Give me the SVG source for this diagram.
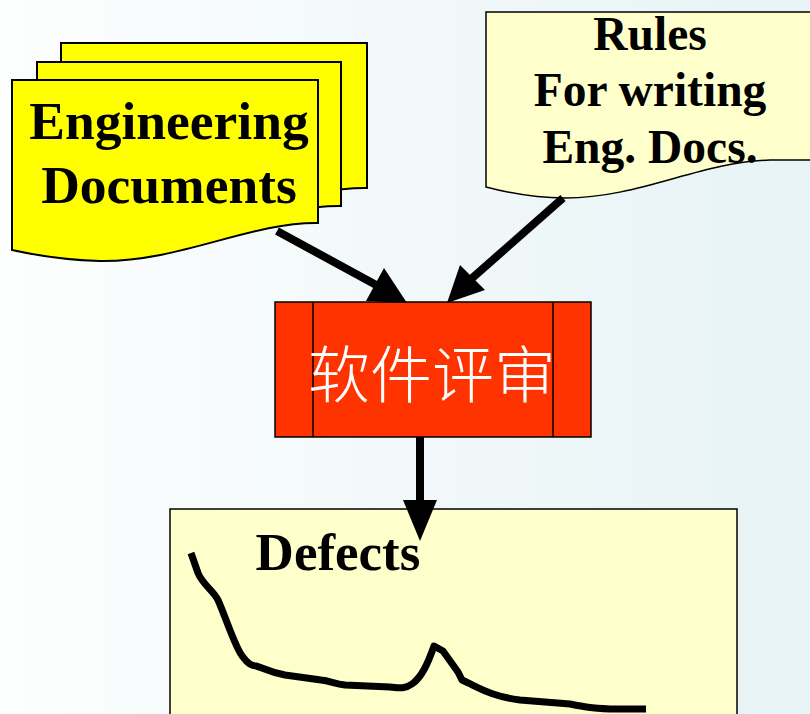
<svg xmlns="http://www.w3.org/2000/svg" width="810" height="714" viewBox="0 0 810 714">
<defs>
<linearGradient id="bg" x1="0" y1="0" x2="1" y2="0">
<stop offset="0" stop-color="#fdfefe"/>
<stop offset="1" stop-color="#e7f3f5"/>
</linearGradient>
<style>
.doc{fill:#ffff00;stroke:#000;stroke-width:2}
.pale{fill:#ffffcc;stroke:#000;stroke-width:1.5}
.en{font-family:"Liberation Serif","Times New Roman",serif;font-weight:bold;fill:#000;text-anchor:middle}
.conn{stroke:#000;stroke-width:8;fill:none}
.head{fill:#000;stroke:none}
</style>
</defs>
<rect x="0" y="0" width="810" height="714" fill="url(#bg)"/>

<g id="engineering-documents">
<path class="doc" d="M61,43 H367 V188 C299,187 229,227 149,226 C109,225 79,219 61,215 Z"/>
<path class="doc" d="M37,62 H341 V206 C273,205 204,245 124,244 C84,243 55,237 37,233 Z"/>
<path class="doc" d="M12,80 H318 V223 C250,222 180,262 100,261 C60,260 30,254 12,250 Z"/>
<text class="en" x="169" y="139" font-size="53.5">Engineering</text>
<text class="en" x="169" y="203" font-size="53.5">Documents</text>
</g>

<g id="rules">
<path class="pale" d="M486,12 H830 V160 H770 C700,162 640,198 565,198 C530,198 505,192 486,187 Z"/>
<text class="en" x="650" y="50" font-size="47.5">Rules</text>
<text class="en" x="650" y="106" font-size="47.5">For writing</text>
<text class="en" x="650" y="163" font-size="47.5">Eng. Docs.</text>
</g>

<g id="review">
<rect x="275" y="302" width="316" height="135" fill="#ff3300" stroke="#000" stroke-width="1.5"/>
<line x1="313" y1="302" x2="313" y2="437" stroke="#000" stroke-width="1.5"/>
<line x1="553" y1="302" x2="553" y2="437" stroke="#000" stroke-width="1.5"/>
<text x="432" y="398" font-size="62" fill="#ffffff" text-anchor="middle" font-family="'Noto Sans CJK SC','Noto Sans CJK JP',sans-serif" font-weight="300">软件评审</text>
</g>

<g id="defects">
<rect class="pale" x="170" y="509" width="567" height="230"/>
<text class="en" x="338" y="570" font-size="53">Defects</text>
<path d="M191,553 L198,573 C203,585 213,590 218,600 C226,618 236,650 243,657 C248,664 252,666 256,666 C264,668 268,672 285,675 L321,680 C330,681 335,684 345,685 L390,687 C400,688 405,689 412,684 C422,677 428,663 434,646 L443,651 L458,672 L462,680 C480,688 490,696 520,700 L570,704 C585,707 590,708 610,709 L646,709" fill="none" stroke="#000" stroke-width="7" stroke-linejoin="round"/>
</g>

<g id="connectors">
<line class="conn" x1="277" y1="231" x2="378" y2="286"/>
<polygon class="head" points="407,303 384,268 366,301"/>
<line class="conn" x1="563" y1="198" x2="470" y2="280"/>
<polygon class="head" points="447,303 460,265 485,290"/>
<line class="conn" x1="420" y1="437" x2="420" y2="505"/>
<polygon class="head" points="403,500 437,500 420,541"/>
</g>
</svg>
